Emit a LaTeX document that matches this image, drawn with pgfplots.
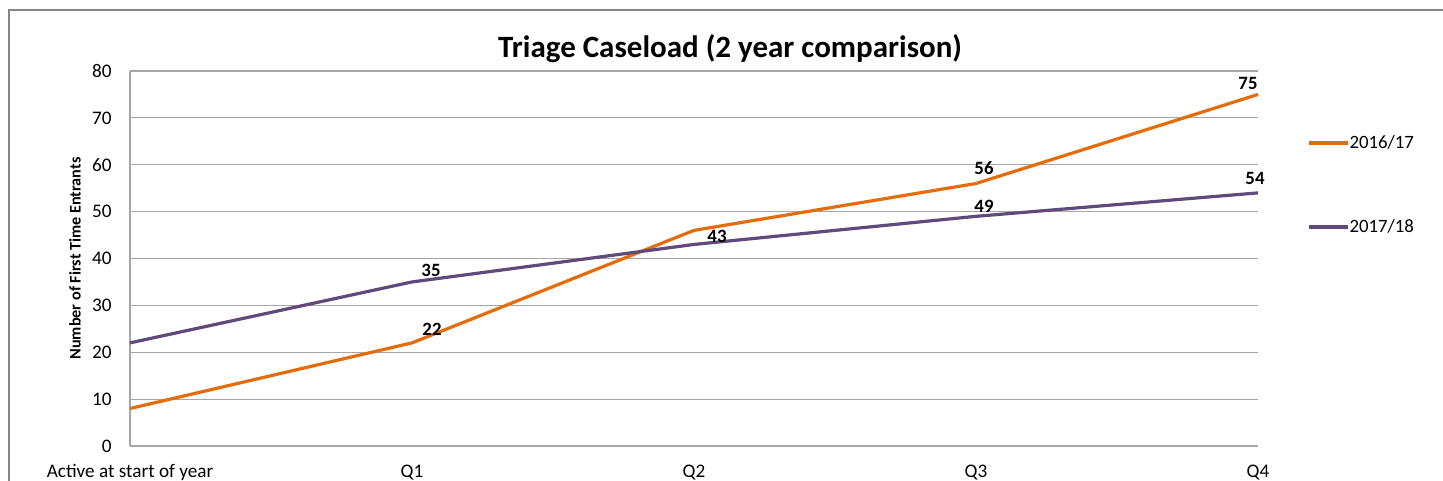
\documentclass[border=0pt]{standalone}
\usepackage{pgfplots}
\pgfplotsset{compat=1.18}
\usepackage{fontspec}
\setmainfont{Carlito}
\definecolor{xorange}{HTML}{E46C0A}
\definecolor{xpurple}{HTML}{604A7B}
\definecolor{xgrid}{HTML}{A6A6A6}
\definecolor{xframe}{HTML}{868686}
\begin{document}
\begin{tikzpicture}
\path[use as bounding box] (0,0) rectangle (721.5bp,240.5bp);
\draw[xframe, line width=1bp] (4.5bp,0) -- (4.5bp,235.5bp) -- (722bp,235.5bp);
\begin{axis}[
  at={(65bp,17.5bp)}, anchor=south west,
  scale only axis, width=564bp, height=187.5bp,
  xmin=0, xmax=4, ymin=0, ymax=80,
  clip=false,
  xtick={0,1,2,3,4},
  xticklabels={Active at start of year,Q1,Q2,Q3,Q4},
  ytick={0,10,...,80},
  major tick length=0pt,
  axis x line*=bottom, axis y line*=left,
  axis line style={-, xgrid, line width=0.6bp},
  ymajorgrids, major grid style={xgrid, line width=0.6bp},
  /pgf/number format/assume math mode=true,
  tick label style={font=\fontsize{9.6bp}{11bp}\selectfont, text=black},
  xticklabel style={anchor=base, yshift=-15.75bp},
  yticklabel style={anchor=east, inner sep=0pt, xshift=-9bp},
  title={\fontsize{15.5bp}{18bp}\selectfont\bfseries Triage Caseload (2 year comparison)},
  title style={at={(axis description cs:0.532,1.027)}, anchor=center, inner sep=0pt},
  ylabel={\fontsize{8.1bp}{10bp}\selectfont\bfseries Number of First Time Entrants},
  ylabel style={at={(axis description cs:-0.0488,0.5)}, anchor=center, inner sep=0pt},
  legend style={draw=none, fill=none, inner sep=0pt,
    at={(axis description cs:1.0434,0.696)}, anchor=west,
    font=\fontsize{9.4bp}{11bp}\selectfont, row sep=34bp,
    nodes={inner sep=0pt},
    /tikz/every even column/.append style={column sep=1.5bp}},
  legend cell align=left,
  legend image code/.code={\draw[#1] (0bp,0bp) -- (19.5bp,0bp);},
]
\addplot[xorange, line width=1.6bp] coordinates {(0,8) (1,22) (2,46) (3,56) (4,75)};
\addlegendentry{2016/17}
\addplot[xpurple, line width=1.6bp] coordinates {(0,22) (1,35) (2,43) (3,49) (4,54)};
\addlegendentry{2017/18}
\begin{scope}[every node/.style={font=\fontsize{9.4bp}{11bp}\selectfont\bfseries, inner sep=0pt, anchor=center}]
\node[xshift=10bp, yshift=7bp] at (axis cs:1,22) {22};
\node[xshift=9.5bp, yshift=6bp] at (axis cs:1,35) {35};
\node[xshift=11.5bp, yshift=4.2bp] at (axis cs:2,43) {43};
\node[xshift=4bp, yshift=7.7bp] at (axis cs:3,56) {56};
\node[xshift=4bp, yshift=5bp] at (axis cs:3,49) {49};
\node[xshift=-5bp, yshift=5.7bp] at (axis cs:4,75) {75};
\node[xshift=-1.5bp, yshift=7bp] at (axis cs:4,54) {54};
\end{scope}
\end{axis}
\end{tikzpicture}
\end{document}
